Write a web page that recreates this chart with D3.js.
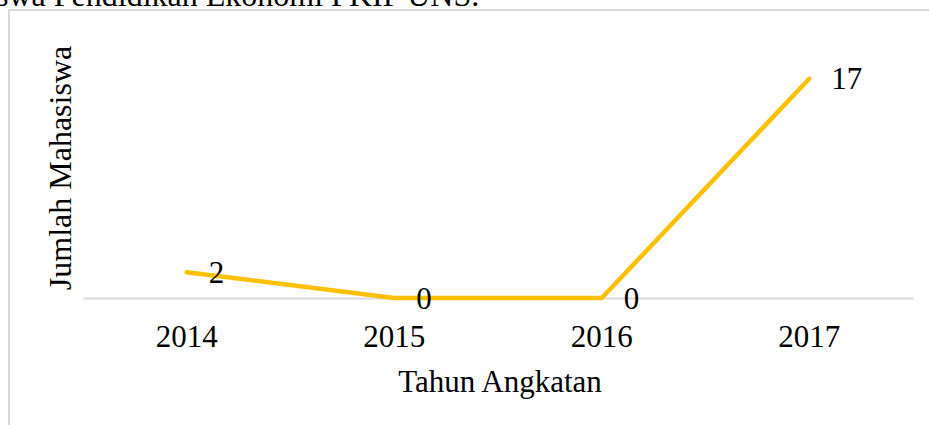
<!DOCTYPE html>
<html lang="en">
<head>
    <meta charset="UTF-8">
    <title>Jumlah Mahasiswa per Tahun Angkatan</title>
    <script src="https://cdn.jsdelivr.net/npm/d3@7/dist/d3.min.js"></script>
    <style>
        body {
            margin: 0;
            background: #fff;
        }
        svg text {
            font-family: "Liberation Serif", "Times New Roman", serif;
            fill: #000;
        }
        .line {
            fill: none;
            stroke: #ffc000;
            stroke-width: 4.5px;
            stroke-linecap: round;
            stroke-linejoin: round;
        }
    </style>
</head>
<body>
    <svg id="chart" width="929" height="425"></svg>

    <script>
        // data
        const years = ["2014", "2015", "2016", "2017"];
        const counts = [2, 0, 0, 17];
        const yTicks = [0, 20];

        const svg = d3.select("#chart");
        const left = 83, right = 913, baseY = 298, topY = 40;

        // caption text of the page above the chart (cut off at the top)
        svg.append("text")
            .attr("x", -4)
            .attr("y", 6)
            .style("font-size", "32px")
            .text("swa Pendidikan Ekonomi FKIP UNS.");

        // chart frame
        svg.append("rect")
            .attr("x", 9)
            .attr("y", 10)
            .attr("width", 940)
            .attr("height", 440)
            .attr("fill", "none")
            .attr("stroke", "#d9d9d9")
            .attr("stroke-width", 2);

        const x = d3.scaleBand()
            .domain(years)
            .range([left, right])
            .padding(0);

        const y = d3.scaleLinear()
            .domain(d3.extent(yTicks))
            .range([baseY, topY]);

        const cx = d => x(d) + x.bandwidth() / 2;

        // category axis
        const xAxis = svg.append("g")
            .attr("transform", `translate(0,${baseY})`)
            .call(d3.axisBottom(x).tickSize(0).tickSizeOuter(0).tickPadding(27));
        xAxis.select(".domain").attr("stroke", "#d9d9d9").attr("stroke-width", 2);
        xAxis.selectAll("text")
            .style("font-size", "31px")
            .style("font-family", "Liberation Serif");

        // line
        const line = d3.line()
            .x((d, i) => cx(years[i]))
            .y(d => y(d));

        svg.append("path")
            .datum(counts)
            .attr("class", "line")
            .attr("d", line);

        // data labels
        svg.append("g")
            .selectAll("text")
            .data(counts)
            .enter()
            .append("text")
            .attr("x", (d, i) => cx(years[i]) + 22)
            .attr("y", d => y(d))
            .attr("dy", "0.34em")
            .style("font-size", "31px")
            .text(d => d);

        // axis titles
        svg.append("text")
            .attr("x", (left + right) / 2 + 2)
            .attr("y", 392)
            .attr("text-anchor", "middle")
            .style("font-size", "31px")
            .text("Tahun Angkatan");

        svg.append("text")
            .attr("transform", "translate(71,168) rotate(-90)")
            .attr("text-anchor", "middle")
            .style("font-size", "32px")
            .text("Jumlah Mahasiswa");
    </script>
</body>
</html>
